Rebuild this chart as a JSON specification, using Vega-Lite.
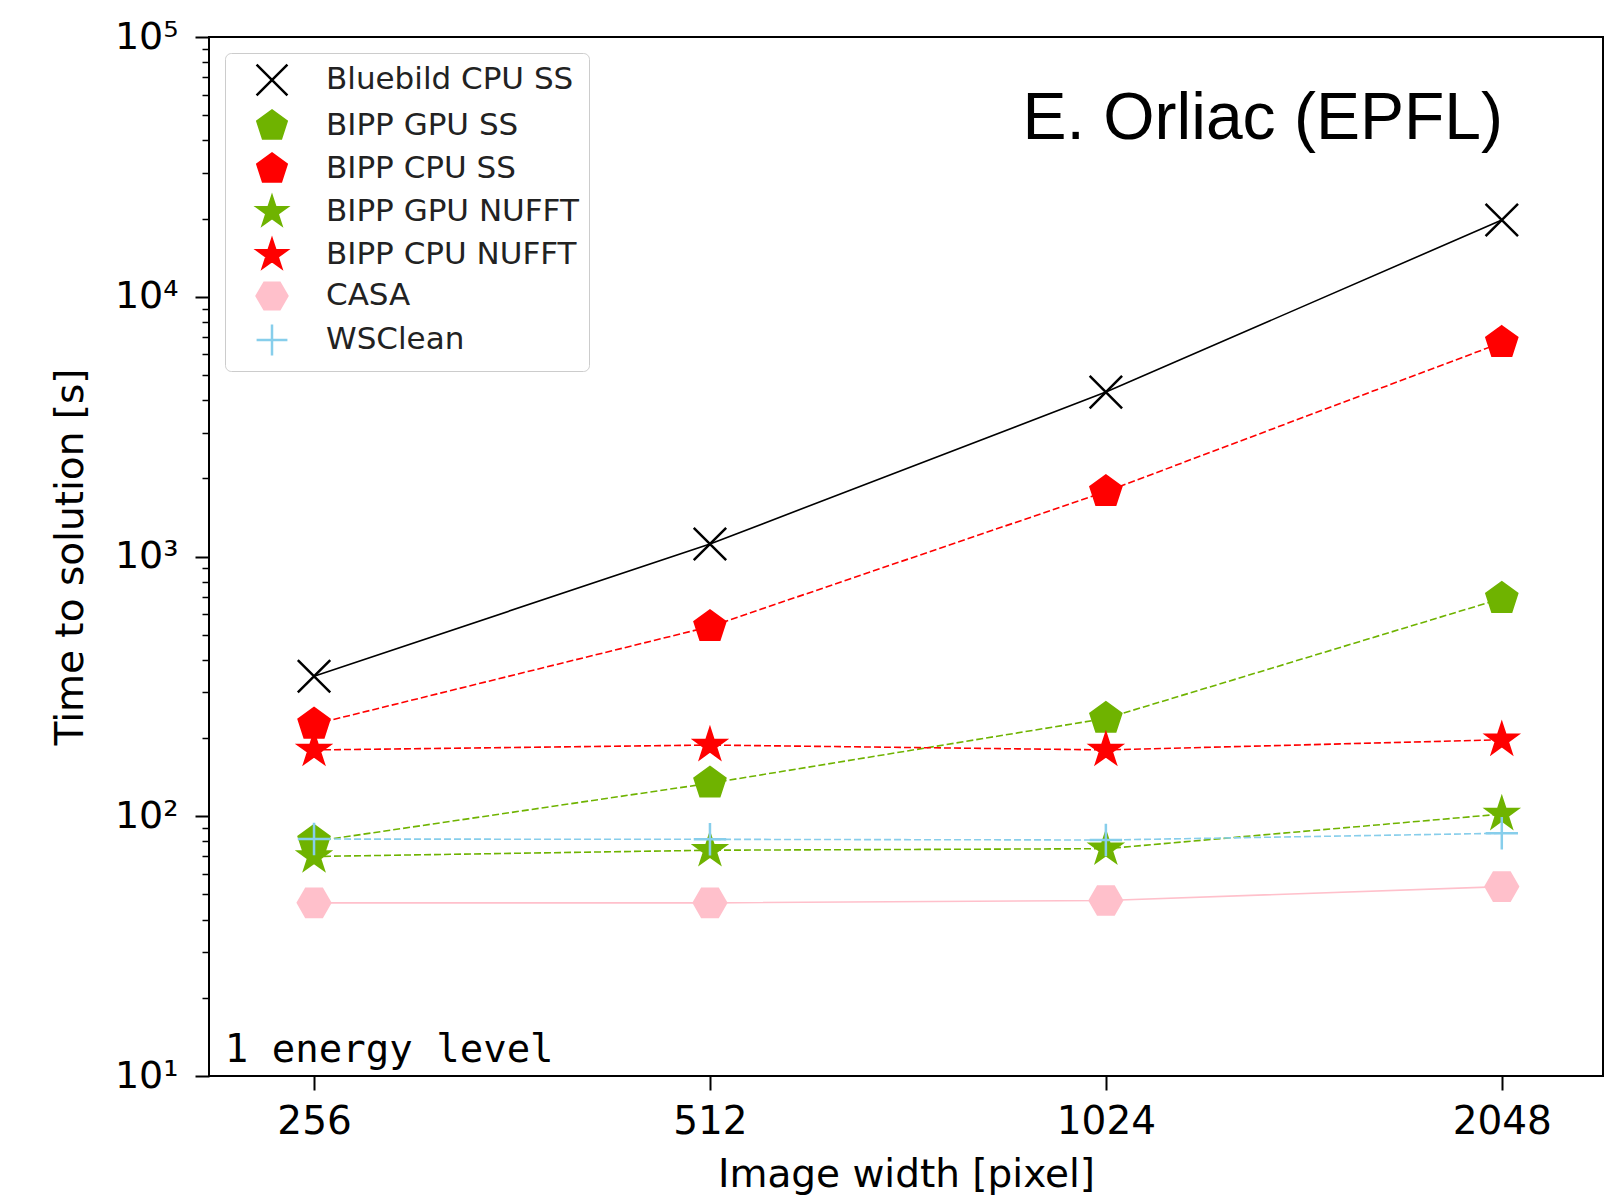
{
  "$schema": "https://vega.github.io/schema/vega-lite/v6.json",
  "width": 1394,
  "height": 1039,
  "autosize": {"type": "none"},
  "padding": {"left": 209, "top": 37, "right": 10, "bottom": 119},
  "background": "white",
  "config": {
    "view": {"stroke": "black", "strokeWidth": 2},
    "axis": {
      "labelFont": "DejaVu Sans", "titleFont": "DejaVu Sans",
      "labelColor": "black", "titleColor": "black", "tickColor": "black",
      "titleFontWeight": "normal", "grid": false, "domain": false
    },
    "legend": {
      "orient": "top-left", "offset": 16, "padding": 10,
      "strokeColor": "#cccccc", "cornerRadius": 6, "fillColor": "white",
      "labelFont": "DejaVu Sans", "labelFontSize": 31, "labelColor": "#222222",
      "symbolSize": 950, "symbolStrokeWidth": 2.5, "rowPadding": 4,
      "labelOffset": 37, "symbolOffset": 20, "labelLimit": 600
    }
  },
  "datasets": {
    "perf": [
      {"series": "Bluebild CPU SS", "width": 256, "time": 346},
      {"series": "Bluebild CPU SS", "width": 512, "time": 1117},
      {"series": "Bluebild CPU SS", "width": 1024, "time": 4296},
      {"series": "Bluebild CPU SS", "width": 2048, "time": 19740},
      {"series": "BIPP GPU SS", "width": 256, "time": 80},
      {"series": "BIPP GPU SS", "width": 512, "time": 134},
      {"series": "BIPP GPU SS", "width": 1024, "time": 238},
      {"series": "BIPP GPU SS", "width": 2048, "time": 689},
      {"series": "BIPP CPU SS", "width": 256, "time": 226},
      {"series": "BIPP CPU SS", "width": 512, "time": 537},
      {"series": "BIPP CPU SS", "width": 1024, "time": 1777},
      {"series": "BIPP CPU SS", "width": 2048, "time": 6660},
      {"series": "BIPP GPU NUFFT", "width": 256, "time": 70},
      {"series": "BIPP GPU NUFFT", "width": 512, "time": 74},
      {"series": "BIPP GPU NUFFT", "width": 1024, "time": 75},
      {"series": "BIPP GPU NUFFT", "width": 2048, "time": 102},
      {"series": "BIPP CPU NUFFT", "width": 256, "time": 180},
      {"series": "BIPP CPU NUFFT", "width": 512, "time": 188},
      {"series": "BIPP CPU NUFFT", "width": 1024, "time": 180},
      {"series": "BIPP CPU NUFFT", "width": 2048, "time": 197},
      {"series": "CASA", "width": 256, "time": 46.4},
      {"series": "CASA", "width": 512, "time": 46.4},
      {"series": "CASA", "width": 1024, "time": 47.4},
      {"series": "CASA", "width": 2048, "time": 53.6},
      {"series": "WSClean", "width": 256, "time": 81.7},
      {"series": "WSClean", "width": 512, "time": 81.5},
      {"series": "WSClean", "width": 1024, "time": 81},
      {"series": "WSClean", "width": 2048, "time": 86}
    ],
    "author": [{"label": "E. Orliac (EPFL)", "width": 885, "time": 40500}],
    "note": [{"label": "1 energy level", "width": 219, "time": 11.3}]
  },
  "layer": [
    {
      "data": {"name": "perf"},
      "transform": [{"filter": {"field": "series", "oneOf": ["Bluebild CPU SS", "CASA"]}}],
      "mark": {"type": "line", "strokeWidth": 1.6},
      "encoding": {
        "x": {
          "field": "width", "type": "quantitative",
          "scale": {"type": "log", "base": 2, "domain": [213, 2445], "nice": false},
          "axis": {
            "values": [256, 512, 1024, 2048], "format": "d",
            "labelFontSize": 39, "tickSize": 14, "tickWidth": 2, "labelPadding": 12,
            "title": "Image width [pixel]", "titleFontSize": 39, "titlePadding": 14
          }
        },
        "y": {
          "field": "time", "type": "quantitative",
          "scale": {"type": "log", "domain": [10, 100000], "nice": false},
          "axis": {
            "orient": "left",
            "values": [20, 30, 40, 50, 60, 70, 80, 90, 200, 300, 400, 500, 600, 700, 800, 900, 2000, 3000, 4000, 5000, 6000, 7000, 8000, 9000, 20000, 30000, 40000, 50000, 60000, 70000, 80000, 90000],
            "labels": false, "tickSize": 7, "tickWidth": 1.5, "title": null
          }
        },
        "stroke": {
          "field": "series", "type": "nominal", "title": null,
          "scale": {
            "domain": ["Bluebild CPU SS", "BIPP GPU SS", "BIPP CPU SS", "BIPP GPU NUFFT", "BIPP CPU NUFFT", "CASA", "WSClean"],
            "range": ["#000000", "#6fb300", "#ff0000", "#6fb300", "#ff0000", "#ffc0cb", "#87ceeb"]
          }
        }
      }
    },
    {
      "data": {"name": "perf"},
      "transform": [{"filter": {"field": "series", "oneOf": ["BIPP GPU SS", "BIPP CPU SS", "BIPP GPU NUFFT", "BIPP CPU NUFFT", "WSClean"]}}],
      "mark": {"type": "line", "strokeWidth": 1.6, "strokeDash": [7, 3]},
      "encoding": {
        "x": {"field": "width", "type": "quantitative"},
        "y": {"field": "time", "type": "quantitative", "axis": null},
        "stroke": {"field": "series", "type": "nominal", "title": null}
      }
    },
    {
      "data": {"name": "perf"},
      "mark": {"type": "point", "filled": true, "opacity": 1, "strokeWidth": 2.5},
      "encoding": {
        "x": {"field": "width", "type": "quantitative"},
        "y": {
          "field": "time", "type": "quantitative",
          "axis": {
            "orient": "left",
            "values": [10, 100, 1000, 10000, 100000],
            "labelExpr": "'10' + ['⁰','¹','²','³','⁴','⁵'][round(log(datum.value)/LN10)]",
            "labelFontSize": 38, "tickSize": 14, "tickWidth": 2, "labelPadding": 17,
            "title": "Time to solution [s]", "titleFontSize": 39, "titlePadding": 24
          }
        },
        "shape": {
          "field": "series", "type": "nominal", "title": null,
          "scale": {
            "domain": ["Bluebild CPU SS", "BIPP GPU SS", "BIPP CPU SS", "BIPP GPU NUFFT", "BIPP CPU NUFFT", "CASA", "WSClean"],
            "range": [
              "M-1,-1L1,1M-1,1L1,-1",
              "M0,-1L0.951,-0.309L0.588,0.809L-0.588,0.809L-0.951,-0.309Z",
              "M0,-1L0.951,-0.309L0.588,0.809L-0.588,0.809L-0.951,-0.309Z",
              "M0,-1L0.2245,-0.309L0.951,-0.309L0.3633,0.118L0.588,0.809L0,0.382L-0.588,0.809L-0.3633,0.118L-0.951,-0.309L-0.2245,-0.309Z",
              "M0,-1L0.2245,-0.309L0.951,-0.309L0.3633,0.118L0.588,0.809L0,0.382L-0.588,0.809L-0.3633,0.118L-0.951,-0.309L-0.2245,-0.309Z",
              "M1,0L0.5,0.866L-0.5,0.866L-1,0L-0.5,-0.866L0.5,-0.866Z",
              "M-1,0L1,0M0,-1L0,1"
            ]
          }
        },
        "fill": {
          "field": "series", "type": "nominal", "title": null,
          "scale": {
            "domain": ["Bluebild CPU SS", "BIPP GPU SS", "BIPP CPU SS", "BIPP GPU NUFFT", "BIPP CPU NUFFT", "CASA", "WSClean"],
            "range": ["#000000", "#6fb300", "#ff0000", "#6fb300", "#ff0000", "#ffc0cb", "#87ceeb"]
          }
        },
        "stroke": {"field": "series", "type": "nominal", "title": null},
        "size": {"value": 1050}
      }
    },
    {
      "data": {"name": "author"},
      "mark": {"type": "text", "font": "Liberation Sans", "fontSize": 66, "align": "left", "baseline": "alphabetic", "color": "black"},
      "encoding": {
        "x": {"field": "width", "type": "quantitative"},
        "y": {"field": "time", "type": "quantitative", "axis": null},
        "text": {"field": "label"}
      }
    },
    {
      "data": {"name": "note"},
      "mark": {"type": "text", "font": "DejaVu Sans Mono", "fontSize": 39, "align": "left", "baseline": "alphabetic", "color": "black"},
      "encoding": {
        "x": {"field": "width", "type": "quantitative"},
        "y": {"field": "time", "type": "quantitative", "axis": null},
        "text": {"field": "label"}
      }
    }
  ],
  "resolve": {"axis": {"y": "independent"}}
}
